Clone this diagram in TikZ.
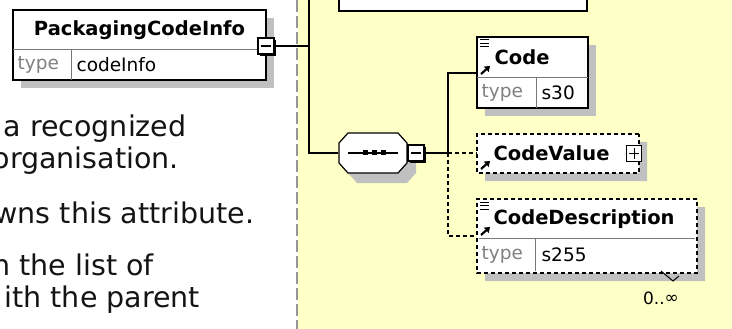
\documentclass[tikz,border=0pt]{standalone}
\usepackage{fontspec}
\setmainfont{DejaVu Sans}
\usetikzlibrary{positioning,calc,shapes.misc,shadows,arrows.meta}
\definecolor{PaleYellow}{RGB}{255,255,200}
\definecolor{ShadowGray}{RGB}{192,192,192}
\definecolor{TypeGray}{RGB}{128,128,128}
\definecolor{SepGray}{RGB}{120,120,120}
\definecolor{RuleGray}{RGB}{150,150,150}
\definecolor{DocText}{RGB}{20,20,20}

\tikzset{
  elbox/.style={draw, fill=white, line width=1.2pt, inner sep=0pt},
  elshadow/.style={drop shadow={shadow xshift=8pt,shadow yshift=-8pt,fill=ShadowGray,opacity=1}},
  optbox/.style={elbox, chamfered rectangle, chamfered rectangle xsep=3pt, chamfered rectangle ysep=3pt,
    dash pattern=on 4pt off 3pt},
  togglebox/.style={draw, fill=white, line width=1.2pt, minimum size=16pt, inner sep=0pt,
    drop shadow={shadow xshift=2pt,shadow yshift=-2pt,fill=black,opacity=1}},
  elname/.style={font=\bfseries\fontsize{19.5}{20}\selectfont, inner sep=0pt},
  typetag/.style={font=\fontsize{18.5}{19}\selectfont, text=TypeGray, inner sep=0pt, anchor=west},
  typeval/.style={font=\fontsize{18.5}{19}\selectfont, inner sep=0pt, anchor=west},
  doctext/.style={font=\fontsize{28.5}{30}\selectfont, text=DocText, inner sep=0pt, anchor=base west},
  refarrow/.style={line width=2.2pt, -{Triangle[length=5pt,width=7pt]}},
}

\begin{document}
\begin{tikzpicture}[x=1pt,y=-1pt,line width=1.2pt]
\useasboundingbox (0,0) rectangle (732,329);
\clip (0,0) rectangle (732,329);
% backgrounds
\fill[white] (0,0) rectangle (298,329);
\fill[PaleYellow] (298,0) rectangle (732,329);
\draw[RuleGray,line width=2pt,dash pattern=on 12pt off 4pt] (297,0) -- (297,329);

% documentation text, cut at the left
\node[doctext] (docA) at (3,136) {a recognized};
\node[doctext] (docB) at (-8,168) {organisation.};
\node[doctext] (docC) at (-6,223) {wns this attribute.};
\node[doctext] (docD) at (-8,275) {n the list of};
\node[doctext] (docE) at (4,307) {ith the parent};

% PackagingCodeInfo
\node[elbox,elshadow,minimum width=253pt,minimum height=70pt] (pci) at (139.5,45) {};
\draw[SepGray,line width=1pt] (13,50) -- (266,50);
\draw[SepGray,line width=1pt] (71,50) -- (71,80);
\node[elname] (pciname) at (139.5,30) {PackagingCodeInfo};
\node[typetag] (pcitype) at (17,65) {type};
\node[typeval] (pcival) at (76,65) {codeInfo};
\node[togglebox] (pcitoggle) at (266,46) {};
\draw (pcitoggle.center) ++(-5,0) -- ++(10,0);

% box above, cut at the top
\node[elbox,minimum width=248pt,minimum height=31pt] (topbox) at (463,-4.5) {};

% sequence
\coordinate (trunktop) at (309,-2);
\coordinate (trunkbot) at (309,153);
\fill[ShadowGray,shift={(9,10)}] (348,133) -- (398,133) -- (407,143) -- (407,163) -- (398,173)
  -- (348,173) -- (339,163) -- (339,143) -- cycle;
\draw[fill=white] (348,133) -- (398,133) -- (407,143) -- (407,163) -- (398,173)
  -- (348,173) -- (339,163) -- (339,143) -- cycle;
\node[minimum width=68pt,minimum height=40pt,inner sep=0pt] (seq) at (373,153) {};
\draw (348,153) -- (398,153);
\foreach \sx in {365,374,383}
  \fill (\sx-2.5,150.5) rectangle (\sx+2.5,155.5);
\node[togglebox] (seqtoggle) at (416,153) {};
\draw (seqtoggle.center) ++(-5,0) -- ++(10,0);

\draw (pcitoggle.east) -- (pcitoggle.east -| trunktop);
\draw (trunktop) -- (trunkbot) -- (seq.west);

% children
\node[elbox,elshadow,minimum width=111pt,minimum height=71pt] (code) at (532.5,72.5) {};
\draw[SepGray,line width=1pt] (477,78) -- (588,78);
\draw[SepGray,line width=1pt] (536,78) -- (536,108);
\node[elname,anchor=west] (codename) at (494,57) {Code};
\node[typetag] (codetype) at (481,93) {type};
\node[typeval] (codeval) at (541,93) {s30};

\node[optbox,elshadow,minimum width=162pt,minimum height=39pt] (codevalue) at (558,153.5) {};
\node[elname,anchor=west] (cvname) at (493,153) {CodeValue};
\node[draw,fill=white,line width=1pt,minimum size=15pt,inner sep=0pt] (cvtoggle) at (634,153.5) {};
\draw[line width=1pt] (cvtoggle.center) ++(-5,0) -- ++(10,0);
\draw[line width=1pt] (cvtoggle.center) ++(0,-5) -- ++(0,10);

\node[optbox,elshadow,minimum width=220pt,minimum height=74pt] (codedesc) at (587,236) {};
\draw[SepGray,line width=1pt] (479,238) -- (695,238);
\draw[SepGray,line width=1pt] (535,238) -- (535,271);
\node[elname,anchor=west] (cdname) at (493,219) {CodeDescription};
\node[typetag] (cdtype) at (481,255) {type};
\node[typeval] (cdval) at (541,255) {s255};
\draw[line width=1pt] (661,271) -- (673,281) -- (679,276);
\node[font=\fontsize{17}{17}\selectfont,inner sep=0pt] (cdocc) at (661,298) {0..\raisebox{0.5pt}{∞}};

% icons
\foreach \iy in {40,43.5,47} \draw[line width=1pt] (480,\iy) -- (489,\iy);
\foreach \iy in {202,205.5,209} \draw[line width=1pt] (480,\iy) -- (489,\iy);
\draw[refarrow] (481,74) -- (490,66);
\draw[refarrow] (481,169) -- (490,161);
\draw[refarrow] (481,235) -- (490,227);

% connectors
\coordinate (branchtop) at (448,73);
\coordinate (branch) at (448,153);
\coordinate (branchbot) at (448,236);
\draw (seqtoggle.east) -- (branch);
\draw (branch) -- (branchtop) -- (branchtop -| code.west);
\draw[dash pattern=on 4pt off 3pt] (branch) -- (branch -| codevalue.west);
\draw[dash pattern=on 4pt off 3pt] (branch) -- (branchbot) -- (branchbot -| codedesc.west);
\end{tikzpicture}
\end{document}
